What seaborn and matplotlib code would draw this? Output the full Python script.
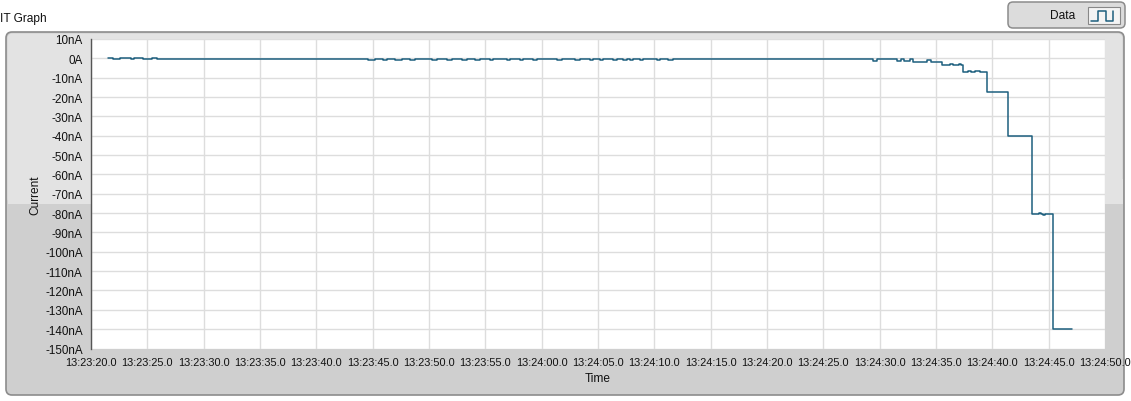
import matplotlib
matplotlib.use("Agg")
import matplotlib.pyplot as plt
from matplotlib.patches import FancyBboxPatch, Rectangle
from matplotlib.ticker import FuncFormatter
import seaborn as sns
import pandas as pd

# ---- data (time in seconds after 13:23:00, current in nA; step changes) ----
base_time = "13:23"
time_s = [21.5, 21.95, 22.6, 23.55, 23.8, 24.6, 25.4, 25.9,
          44.6, 45.2, 45.9, 46.3, 47.0, 47.6, 48.3, 48.8, 50.3, 50.7,
          51.6, 52.0, 52.9, 53.4, 54.1, 54.5, 55.4, 55.7, 56.9, 57.2,
          58.1, 58.3, 59.2, 59.6, 61.4, 61.8, 63.0, 63.4, 64.3, 64.6,
          65.2, 65.4, 66.3, 66.7, 67.2, 67.6, 67.8, 68.1, 68.7, 69.0,
          70.2, 70.5, 71.2, 71.7, 72.0,
          89.4, 89.8, 91.5, 91.9, 92.2, 92.7, 93.0, 94.2, 94.6,
          95.5, 96.2, 96.5, 97.0, 97.2, 97.4, 97.8, 98.1, 98.5, 98.9,
          99.5, 101.4, 103.5, 104.1, 104.3, 104.5, 104.7, 105.4, 107.1]
current_nA = [0.0, -0.5, 0.0, -0.5, 0.0, -0.5, 0.3, -0.1,
              -0.6, -0.1, -0.6, -0.1, -0.6, -0.1, -0.6, -0.1, -0.6, -0.1,
              -0.6, -0.1, -0.6, -0.1, -0.6, -0.1, -0.6, -0.1, -0.6, -0.1,
              -0.6, -0.1, -0.6, -0.1, -0.6, -0.1, -0.6, -0.1, -0.6, -0.1,
              -0.6, -0.1, -0.6, -0.1, -0.6, -0.1, -0.6, -0.1, -0.6, -0.1,
              -0.6, -0.1, -0.6, -0.1, -0.5,
              -1.2, -0.5, -1.2, -0.5, -1.2, -0.5, -1.7, -1.1, -1.7,
              -3.5, -2.9, -3.5, -2.9, -3.5, -7.3, -6.7, -7.3, -6.7, -7.3,
              -17.3, -40.3, -80.5, -80.0, -80.5, -81.0, -80.5, -140.0, -140.0]
y_ticks = list(range(-150, 11, 10))
x_ticks = list(range(20, 111, 5))

df = pd.DataFrame({"Time": time_s, "Current": current_nA})

W, H = 1131, 402
fig = plt.figure(figsize=(W / 100, H / 100), dpi=100)
fig.patch.set_facecolor("white")
FONT = ["Liberation Sans", "DejaVu Sans"]

# ---- background panel (LabVIEW style) ----
bg = fig.add_axes([0, 0, 1, 1], zorder=0)
bg.set_xlim(0, W)
bg.set_ylim(H, 0)
bg.axis("off")
bg.add_patch(FancyBboxPatch((6, 33), 1118, 363, boxstyle="round,pad=0,rounding_size=6",
                            facecolor="#cfcfcf", edgecolor="#8c8c8c", linewidth=1.2))
bg.add_patch(FancyBboxPatch((7.5, 34.5), 1115, 170, boxstyle="round,pad=0,rounding_size=5",
                            facecolor="#e3e3e3", edgecolor="none"))
bg.add_patch(Rectangle((7.5, 180), 1115, 25, facecolor="#e3e3e3", edgecolor="none"))
bg.text(0, 19, "IT Graph", fontsize=8.6, family=FONT, va="center", ha="left", color="#111111")

# ---- main axes ----
sns.set_style("white")
ax = fig.add_axes([91 / W, (H - 349.5) / H, 1014 / W, 309.5 / H], zorder=1)
ax.set_facecolor("white")
sns.lineplot(data=df, x="Time", y="Current", ax=ax, drawstyle="steps-post",
             color="#1d5f7e", linewidth=1.1, estimator=None)
ax.set_xlim(20, 110)
ax.set_ylim(-150, 10)
ax.set_xticks(x_ticks)
ax.set_yticks(y_ticks)
ax.grid(True, color="#dddddd", linewidth=1.0)
ax.set_axisbelow(True)


def fmt_y(v, pos):
    v = int(round(v))
    return "0A" if v == 0 else f"{v}nA"


def fmt_x(v, pos):
    m_extra = int(v // 60)
    sec = v - 60 * m_extra
    hh, mm = base_time.split(":")
    mm = int(mm) + m_extra
    return f"{hh}:{mm:02d}:{sec:04.1f}"


ax.yaxis.set_major_formatter(FuncFormatter(fmt_y))
ax.xaxis.set_major_formatter(FuncFormatter(fmt_x))
for s in ["top", "right", "bottom"]:
    ax.spines[s].set_visible(False)
ax.spines["left"].set_color("#555555")
ax.spines["left"].set_linewidth(1.0)
ax.tick_params(axis="both", direction="out", length=4, width=1, color="#333333",
               labelcolor="#111111", pad=2)
ax.tick_params(axis="x", pad=2)
for lab in ax.get_xticklabels():
    lab.set_fontfamily(FONT)
    lab.set_fontsize(7.9)
for lab in ax.get_yticklabels():
    lab.set_fontfamily(FONT)
    lab.set_fontsize(8.4)
ax.set_xlabel("Time", fontsize=8.6, family=FONT, labelpad=4, color="#111111")
ax.set_ylabel("Current", fontsize=8.6, family=FONT, labelpad=2.5, color="#111111")

# ---- legend box ----
lg = fig.add_axes([0, 0, 1, 1], zorder=2)
lg.set_xlim(0, W)
lg.set_ylim(H, 0)
lg.axis("off")
lg.add_patch(FancyBboxPatch((1008, 3), 117, 26, boxstyle="round,pad=0,rounding_size=5",
                            facecolor="#dcdcdc", edgecolor="#8c8c8c", linewidth=1.1))
lg.text(1050, 16, "Data", fontsize=8.6, family=FONT, va="center", ha="left", color="#111111")
lg.add_patch(Rectangle((1088, 8), 32, 17, facecolor="#f4f4f4", edgecolor="#888888", linewidth=0.8))
lg.plot([1091, 1098, 1098, 1106, 1106, 1113, 1113], [22, 22, 12, 12, 22, 22, 12],
        color="#1d5f7e", linewidth=1.1)

fig.savefig("out.png", dpi=100)
